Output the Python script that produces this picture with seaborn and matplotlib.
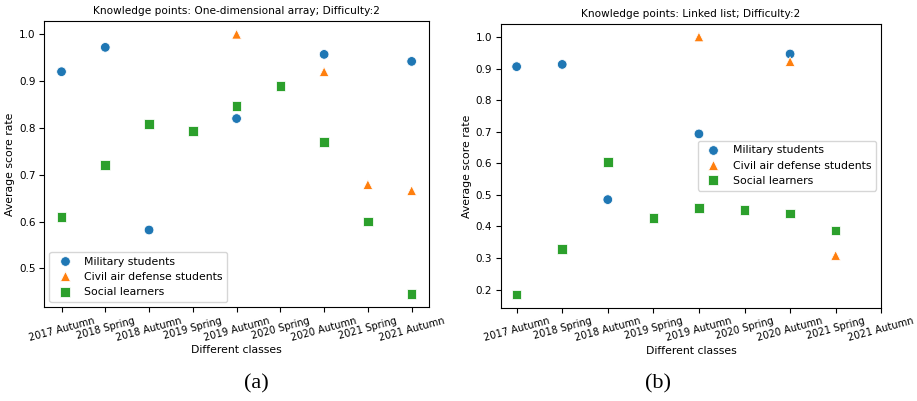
import numpy as np
import pandas as pd
import matplotlib
matplotlib.use("Agg")
import matplotlib.pyplot as plt
import seaborn as sns

# class labels shared by both panels
classes = ["2017 Autumn", "2018 Spring", "2018 Autumn", "2019 Spring",
           "2019 Autumn", "2020 Spring", "2020 Autumn", "2021 Spring",
           "2021 Autumn"]
groups = ["Military students", "Civil air defense students", "Social learners"]

# (a) One-dimensional array  (None = no data for that class)
a_military = [0.920, 0.972, 0.582, None, 0.820, None, 0.957, None, 0.942]
a_civil = [None, None, None, None, 1.000, None, 0.920, 0.679, 0.666]
a_social = [0.610, 0.721, 0.808, 0.794, 0.847, 0.889, 0.770, 0.600, 0.445]

# (b) Linked list
b_military = [0.906, 0.913, 0.485, None, 0.693, None, 0.946, None, None]
b_civil = [None, None, None, None, 1.000, None, 0.922, 0.308, None]
b_social = [0.184, 0.328, 0.604, 0.426, 0.459, 0.452, 0.441, 0.387, None]


def make_df(series):
    rows = []
    for g, vals in zip(groups, series):
        for c, v in zip(classes, vals):
            if v is not None:
                rows.append((c, g, v))
    df = pd.DataFrame(rows, columns=["cls", "group", "score"])
    df["cls"] = pd.Categorical(df["cls"], categories=classes)
    return df


df_a = make_df([a_military, a_civil, a_social])
df_b = make_df([b_military, b_civil, b_social])

palette = dict(zip(groups, ["#1f77b4", "#ff7f0e", "#2ca02c"]))
markers = dict(zip(groups, ["o", "^", "s"]))

fig = plt.figure(figsize=(9.17, 4.01), dpi=100)
ax1 = fig.add_axes([0.048, 0.234, 0.42, 0.713])
ax2 = fig.add_axes([0.546, 0.233, 0.415, 0.707])

# panel tags sit under each sub-figure, not centred on the axes
panels = [
    (ax1, df_a, "Knowledge points: One-dimensional array; Difficulty:2", "lower left", "(a)", 0.280),
    (ax2, df_b, "Knowledge points: Linked list; Difficulty:2", "center right", "(b)", 0.7176),
]

for ax, df, title, loc, tag, tx in panels:
    sns.scatterplot(data=df, x="cls", y="score", hue="group", style="group",
                    hue_order=groups, style_order=groups,
                    palette=palette, markers=markers, s=48, ax=ax)
    ax.set_xticks(range(len(classes)), labels=classes)
    ax.tick_params(axis="x", labelrotation=15, labelsize=7.1, pad=2.5)
    ax.tick_params(axis="y", labelsize=7.5, pad=2.5)
    ax.set_title(title, fontsize=7.6, pad=5)
    ax.set_xlabel("Different classes", fontsize=7.8, labelpad=2)
    ax.set_ylabel("Average score rate", fontsize=7.8, labelpad=3)
    sns.move_legend(ax, loc, title=None, fontsize=7.8)
    fig.text(tx, 0.042, tag, ha="center", va="center",
             fontsize=16, family="Liberation Serif")

fig.savefig("out.png", dpi=100)
